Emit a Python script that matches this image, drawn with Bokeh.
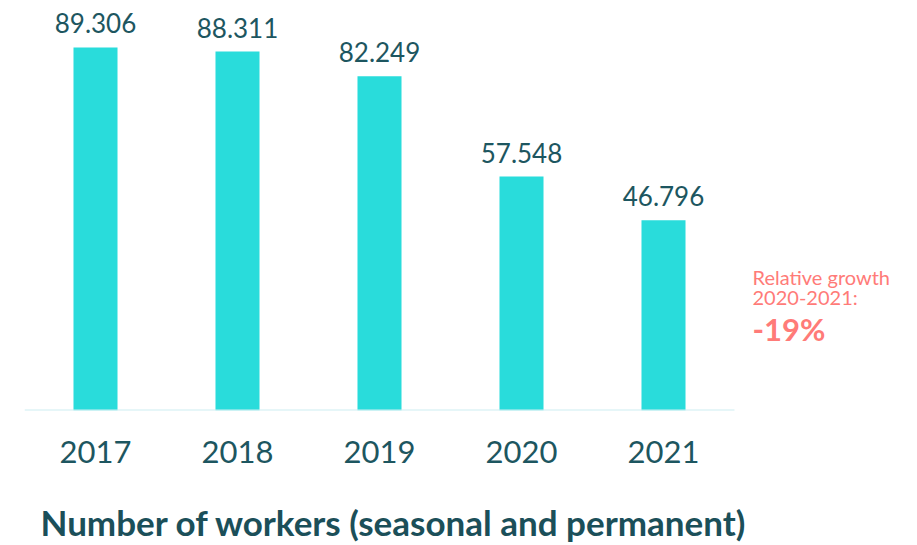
from bokeh.plotting import figure
from bokeh.models import ColumnDataSource, Label, Range1d, FixedTicker, Title
from bokeh.core.properties import value
from bokeh.embed import file_html
from bokeh.resources import INLINE

years = ["2017", "2018", "2019", "2020", "2021"]
workers = [89306, 88311, 82249, 57548, 46796]
value_labels = [f"{v:,}".replace(",", ".") for v in workers]
title_text = "Number of workers (seasonal and permanent)"
growth_caption = ["Relative growth", "2020-2021:"]
growth_value = "-19%"

BAR = "#29dcdb"
DARK = "#1d5660"
SALMON = "#ff7b78"
FONT = "Lato"

n = len(years)
idx = list(range(n))
src = ColumnDataSource(dict(x=idx, workers=workers, lab=value_labels))

p = figure(frame_width=876, frame_height=402,
           x_range=Range1d(-0.5, -0.5 + 876 / 142), y_range=Range1d(0, 98900),
           output_backend="svg", toolbar_location=None,
           min_border_left=24, min_border_right=0, min_border_top=8, min_border_bottom=0)
p.outline_line_color = None
p.background_fill_color = "white"
p.border_fill_color = "white"
p.grid.visible = False
p.yaxis.visible = False

p.vbar(x="x", top="workers", width=0.31, source=src, color=BAR, line_color=None)
p.text(x="x", y="workers", text="lab", source=src, text_align="center",
       text_baseline="bottom", y_offset=-14, text_font=value(FONT),
       text_font_size="26px", text_color=DARK)
# baseline spanning the five categories
p.segment(x0=[-0.5], y0=[0], x1=[n - 0.5], y1=[0], line_color="#cdeef2", line_width=2)

ax = p.xaxis[0]
ax.ticker = FixedTicker(ticks=idx)
ax.major_label_overrides = {i: y for i, y in zip(idx, years)}
ax.axis_line_color = None
ax.major_tick_line_color = None
ax.minor_tick_line_color = None
ax.major_label_text_font = FONT
ax.major_label_text_font_size = "31px"
ax.major_label_text_color = DARK
ax.major_label_standoff = 24

p.add_layout(Label(x=728, y=146, x_units="screen", y_units="screen", text=growth_caption[0],
                   text_font=FONT, text_font_size="20px", text_color=SALMON, text_baseline="top"))
p.add_layout(Label(x=728, y=126, x_units="screen", y_units="screen", text=growth_caption[1],
                   text_font=FONT, text_font_size="20px", text_color=SALMON, text_baseline="top"))
p.add_layout(Label(x=728, y=101, x_units="screen", y_units="screen", text=growth_value,
                   text_font=FONT, text_font_size="31px", text_font_style="bold",
                   text_color=SALMON, text_baseline="top"))
p.add_layout(Title(text=title_text, align="left", offset=16, standoff=66,
                   text_font=FONT, text_font_size="35px", text_font_style="bold",
                   text_line_height=0.8, text_color="#1b4f59"), "below")

open("out.html", "w").write(file_html(p, INLINE))
